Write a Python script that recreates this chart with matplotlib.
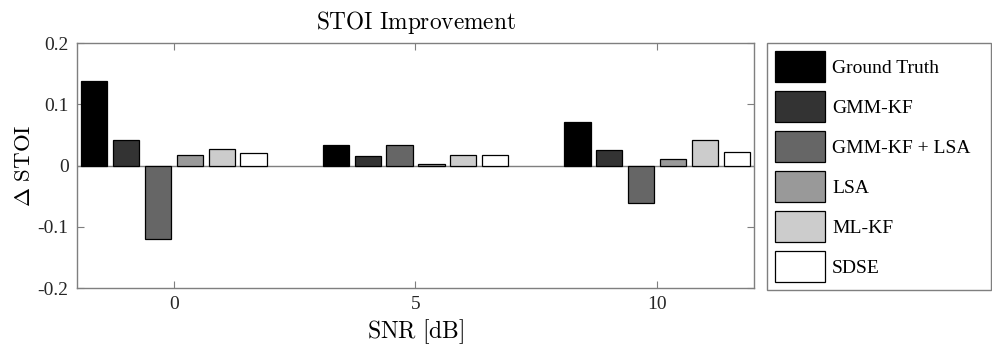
import numpy as np
import matplotlib
matplotlib.use("Agg")
import matplotlib.pyplot as plt

plt.rcParams['font.family'] = ['Liberation Serif', 'DejaVu Serif']
plt.rcParams['mathtext.fontset'] = 'cm'

snr = [0, 5, 10]
methods = ['Ground Truth', 'GMM-KF', 'GMM-KF + LSA', 'LSA', 'ML-KF', 'SDSE']
colors = ['#000000', '#333333', '#666666', '#999999', '#cccccc', '#ffffff']

# delta STOI per method, one value per SNR
gt = [0.138, 0.033, 0.071]
gmm_kf = [0.041, 0.016, 0.026]
gmm_kf_lsa = [-0.120, 0.033, -0.061]
lsa = [0.018, 0.003, 0.011]
ml_kf = [0.027, 0.018, 0.041]
sdse = [0.020, 0.017, 0.022]
values = [gt, gmm_kf, gmm_kf_lsa, lsa, ml_kf, sdse]

fig = plt.figure(figsize=(9.92, 3.45), dpi=100)
ax = fig.add_axes([0.0776, 0.165, 0.6825, 0.71])

x = np.array(snr, dtype=float)
pitch = 0.66
width = 0.54
n = len(methods)
for i, (vals, c, name) in enumerate(zip(values, colors, methods)):
    ax.bar(x + (i - (n - 1) / 2) * pitch, vals, width, color=c,
           edgecolor='black', linewidth=0.9, label=name, zorder=3)

ax.axhline(0, color='#7f7f7f', lw=1, zorder=2)
ax.set_xlim(-2, 12)
ax.set_ylim(-0.2, 0.2)
ax.set_xticks(snr)
ax.set_yticks([-0.2, -0.1, 0, 0.1, 0.2])
ax.set_yticklabels(['-0.2', '-0.1', '0', '0.1', '0.2'])
ax.tick_params(direction='in', length=5, top=True, right=True,
               labelsize=14, color='#7f7f7f', labelcolor='#262626', pad=6)
for s in ax.spines.values():
    s.set_color('#7f7f7f')
    s.set_linewidth(1)

ax.set_title(r'$\mathrm{STOI\ Improvement}$', fontsize=16.8, pad=10)
ax.set_xlabel(r'$\mathrm{SNR\ [dB]}$', fontsize=17, labelpad=2.5)
ax.set_ylabel(r'$\Delta\ \mathrm{STOI}$', fontsize=16.5, labelpad=2)

leg = ax.legend(loc='upper left', bbox_to_anchor=(0.773, 0.162, 0.226, 0.713),
                bbox_transform=fig.transFigure, mode='expand', fontsize=14,
                handlelength=2.6, handleheight=2.1, labelspacing=0.45,
                handletextpad=0.35, borderaxespad=0, borderpad=0.4,
                fancybox=False, framealpha=1, edgecolor='#7f7f7f')
leg.get_frame().set_linewidth(1)
for t in leg.get_texts():
    t.set_color('#000000')

fig.savefig('out.png', dpi=100)
